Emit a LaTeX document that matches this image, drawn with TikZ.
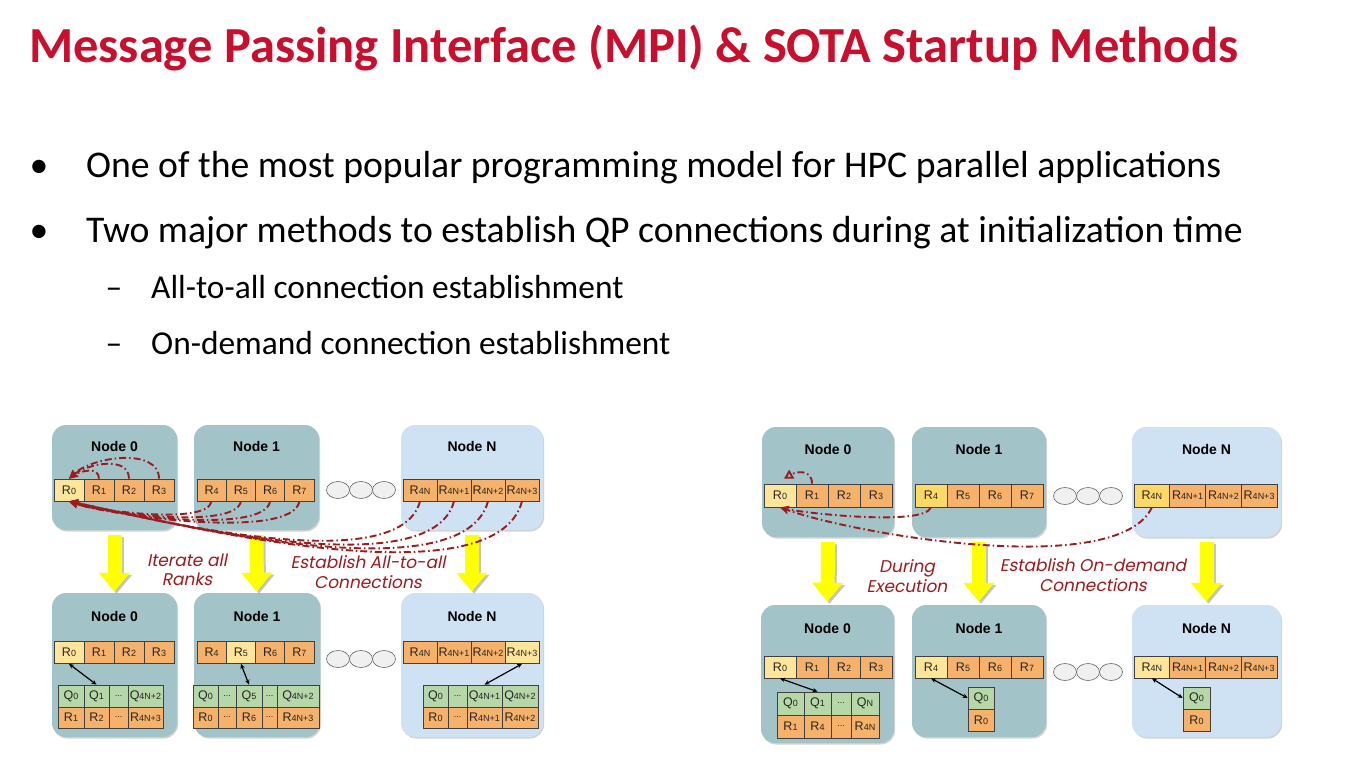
\documentclass[tikz,border=0pt]{standalone}
\usepackage{fontspec}
\setmainfont{Carlito}
\newfontfamily\nodefont{Liberation Sans}
\newfontfamily\lblfont{Poppins}[FakeSlant=0.2]
\usetikzlibrary{arrows.meta,shadows,shapes.geometric}
\definecolor{ttlred}{HTML}{C8102E}
\definecolor{nteal}{HTML}{A2C4C9}
\definecolor{nblue}{HTML}{CFE2F3}
\definecolor{rorange}{HTML}{F6B26B}
\definecolor{rlight}{HTML}{FFE599}
\definecolor{ryellow}{HTML}{FFD966}
\definecolor{qgreen}{HTML}{B6D7A8}
\definecolor{dred}{HTML}{9B1B1E}
\definecolor{ylw}{HTML}{FFFF00}
\newcommand\Rk[1]{{\fontsize{12.5}{13}\selectfont R}{\fontsize{9}{10}\selectfont #1}}
\newcommand\Qk[1]{{\fontsize{12.5}{13}\selectfont Q}{\fontsize{9}{10}\selectfont #1}}
\newcommand\Dk{{\fontsize{9}{10}\selectfont ...}}
\tikzset{
  box/.style={draw=none, rounded corners=14pt, inner sep=0pt,
    drop shadow={shadow xshift=1pt, shadow yshift=-1.5pt, opacity=0.35}},
  nbox/.style={box, fill=nteal},
  nbbox/.style={box, fill=nblue},
  ntitle/.style={font=\nodefont\bfseries\fontsize{14}{16}\selectfont, inner sep=0pt},
  cell/.style={draw=black!75, line width=0.7pt, inner sep=0pt, minimum height=22pt, font=\nodefont, text=black!85},
  rc/.style={cell, fill=rorange},
  hc/.style={cell, fill=rlight},
  yc/.style={cell, fill=ryellow},
  qc/.style={cell, fill=qgreen},
  dot/.style={ellipse, draw=black!60, line width=0.6pt, fill=black!6, minimum width=23pt, minimum height=17pt, inner sep=0pt},
  dd/.style={draw=dred, line width=1.9pt, dash pattern=on 7pt off 3pt on 1.5pt off 3pt, -{Stealth[length=9pt,width=8pt]}},
  ddo/.style={draw=dred, line width=1.9pt, dash pattern=on 7pt off 3pt on 1.5pt off 3pt, -{Triangle[open,length=9pt,width=10pt]}},
  dbl/.style={draw=black, line width=1.2pt, {Stealth[length=5pt,width=4.5pt]}-{Stealth[length=5pt,width=4.5pt]}},
  yarr/.style={draw=ylw, line width=14pt, -{Triangle[length=19pt,width=30pt]}},
  yshd/.style={draw=black!45, opacity=0.5, line width=14pt, -{Triangle[length=19pt,width=30pt]}},
  lbl/.style={font=\lblfont\fontsize{17}{19.5}\selectfont, text=dred, align=center, inner sep=0pt},
  bul/.style={anchor=base west, inner sep=0pt, font=\fontsize{37.7}{40}\selectfont},
  sub/.style={anchor=base west, inner sep=0pt, font=\fontsize{33.4}{36}\selectfont},
}
\begin{document}
\begin{tikzpicture}[x=1pt,y=-1pt]
\useasboundingbox (0,0) rectangle (1349,757);
\fill[white] (0,0) rectangle (1349,757);

% ---------- title and bullets ----------
\node[anchor=base west, inner sep=0pt, font=\fontsize{50.5}{54}\selectfont\bfseries, text=ttlred] (title) at (29,63) {Message Passing Interface (MPI) \& SOTA Startup Methods};
\node[anchor=base, inner sep=0pt, font=\fontsize{37.7}{40}\selectfont] (bu1) at (39,177) {\textbullet};
\node[bul] (t1) at (86,177) {One of the most popular programming model for HPC parallel applications};
\node[anchor=base, inner sep=0pt, font=\fontsize{37.7}{40}\selectfont] (bu2) at (39,242) {\textbullet};
\node[bul] (t2) at (86,242) {Two major methods to establish QP connections during at initialization time};
\node[anchor=base, inner sep=0pt, font=\fontsize{33.4}{36}\selectfont] (da1) at (114,298) {–};
\node[sub] (s1) at (151,298) {All-to-all connection establishment};
\node[anchor=base, inner sep=0pt, font=\fontsize{33.4}{36}\selectfont] (da2) at (114,354) {–};
\node[sub] (s2) at (151,354) {On-demand connection establishment};

% ================= LEFT DIAGRAM =================
\node[nbox, minimum width=125pt, minimum height=105pt] (L0) at (114.5,477.5) {};
\node[nbox, minimum width=125pt, minimum height=105pt] (L1) at (256.5,477.5) {};
\node[nbbox, minimum width=142pt, minimum height=105pt] (LN) at (472,477.5) {};
\node[nbox, minimum width=125pt, minimum height=144pt] (M0) at (114.5,665) {};
\node[nbox, minimum width=126pt, minimum height=144pt] (M1) at (257,665) {};
\node[nbbox, minimum width=142pt, minimum height=144pt] (MN) at (472,665) {};

\node[ntitle] (L0t) at (114.5,446) {Node 0};
\node[ntitle] (L1t) at (256.5,446) {Node 1};
\node[ntitle] (LNt) at (472,446) {Node N};
\node[ntitle] (M0t) at (114.5,616) {Node 0};
\node[ntitle] (M1t) at (257,616) {Node 1};
\node[ntitle] (MNt) at (472,616) {Node N};

% top ranks
\node[hc, minimum width=30pt] (l0r0) at (69,490) {\Rk{0}};
\node[rc, minimum width=30pt] (l0r1) at (99,490) {\Rk{1}};
\node[rc, minimum width=30pt] (l0r2) at (129,490) {\Rk{2}};
\node[rc, minimum width=30pt] (l0r3) at (159,490) {\Rk{3}};
\node[rc, minimum width=29.25pt] (l1r0) at (211.6,490) {\Rk{4}};
\node[rc, minimum width=29.25pt] (l1r1) at (240.9,490) {\Rk{5}};
\node[rc, minimum width=29.25pt] (l1r2) at (270.1,490) {\Rk{6}};
\node[rc, minimum width=29.25pt] (l1r3) at (299.4,490) {\Rk{7}};
\node[rc, minimum width=34pt] (lnr0) at (420,490) {\Rk{4N}};
\node[rc, minimum width=34pt] (lnr1) at (454,490) {\Rk{4N+1}};
\node[rc, minimum width=34pt] (lnr2) at (488,490) {\Rk{4N+2}};
\node[rc, minimum width=34pt] (lnr3) at (522,490) {\Rk{4N+3}};
\node[dot] (ld1) at (338,490) {};
\node[dot] (ld2) at (361,490) {};
\node[dot] (ld3) at (384,490) {};

% bottom ranks
\node[hc, minimum width=30pt] (m0r0) at (69,652.5) {\Rk{0}};
\node[rc, minimum width=30pt] (m0r1) at (99,652.5) {\Rk{1}};
\node[rc, minimum width=30pt] (m0r2) at (129,652.5) {\Rk{2}};
\node[rc, minimum width=30pt] (m0r3) at (159,652.5) {\Rk{3}};
\node[rc, minimum width=29.25pt] (m1r0) at (211.6,652.5) {\Rk{4}};
\node[hc, minimum width=29.25pt] (m1r1) at (240.9,652.5) {\Rk{5}};
\node[rc, minimum width=29.25pt] (m1r2) at (270.1,652.5) {\Rk{6}};
\node[rc, minimum width=29.25pt] (m1r3) at (299.4,652.5) {\Rk{7}};
\node[rc, minimum width=34pt] (mnr0) at (420,652.5) {\Rk{4N}};
\node[rc, minimum width=34pt] (mnr1) at (454,652.5) {\Rk{4N+1}};
\node[rc, minimum width=34pt] (mnr2) at (488,652.5) {\Rk{4N+2}};
\node[hc, minimum width=34pt] (mnr3) at (522,652.5) {\Rk{4N+3}};
\node[dot] (md1) at (338,659) {};
\node[dot] (md2) at (361,659) {};
\node[dot] (md3) at (384,659) {};

% Node 0 QP table
\node[qc, minimum width=26pt] (m0q0) at (71,696) {\Qk{0}};
\node[qc, minimum width=25pt] (m0q1) at (96.5,696) {\Qk{1}};
\node[qc, minimum width=19pt] (m0q2) at (118.5,696) {\Dk};
\node[qc, minimum width=35pt] (m0q3) at (145.5,696) {\Qk{4N+2}};
\node[rc, minimum width=26pt, minimum height=21pt] (m0s0) at (71,717.5) {\Rk{1}};
\node[rc, minimum width=25pt, minimum height=21pt] (m0s1) at (96.5,717.5) {\Rk{2}};
\node[rc, minimum width=19pt, minimum height=21pt] (m0s2) at (118.5,717.5) {\Dk};
\node[rc, minimum width=35pt, minimum height=21pt] (m0s3) at (145.5,717.5) {\Rk{4N+3}};
% Node 1 QP table
\node[qc, minimum width=25pt] (m1q0) at (205.5,696) {\Qk{0}};
\node[qc, minimum width=18pt] (m1q1) at (227,696) {\Dk};
\node[qc, minimum width=26pt] (m1q2) at (249,696) {\Qk{5}};
\node[qc, minimum width=15pt] (m1q3) at (269.5,696) {\Dk};
\node[qc, minimum width=42pt] (m1q4) at (298,696) {\Qk{4N+2}};
\node[rc, minimum width=25pt, minimum height=21pt] (m1s0) at (205.5,717.5) {\Rk{0}};
\node[rc, minimum width=18pt, minimum height=21pt] (m1s1) at (227,717.5) {\Dk};
\node[rc, minimum width=26pt, minimum height=21pt] (m1s2) at (249,717.5) {\Rk{6}};
\node[rc, minimum width=15pt, minimum height=21pt] (m1s3) at (269.5,717.5) {\Dk};
\node[rc, minimum width=42pt, minimum height=21pt] (m1s4) at (298,717.5) {\Rk{4N+3}};
% Node N QP table
\node[qc, minimum width=25pt] (mnq0) at (435.5,696) {\Qk{0}};
\node[qc, minimum width=19pt] (mnq1) at (457.5,696) {\Dk};
\node[qc, minimum width=35pt] (mnq2) at (484.5,696) {\Qk{4N+1}};
\node[qc, minimum width=36pt] (mnq3) at (520,696) {\Qk{4N+2}};
\node[rc, minimum width=25pt, minimum height=21pt] (mns0) at (435.5,717.5) {\Rk{0}};
\node[rc, minimum width=19pt, minimum height=21pt] (mns1) at (457.5,717.5) {\Dk};
\node[rc, minimum width=35pt, minimum height=21pt] (mns2) at (484.5,717.5) {\Rk{4N+1}};
\node[rc, minimum width=36pt, minimum height=21pt] (mns3) at (520,717.5) {\Rk{4N+2}};

\draw[dbl] (m0r0.south) -- (m0q1.north);
\draw[dbl] (m1r1.south) -- (m1q2.north);
\draw[dbl] (mnr3.south) -- (mnq2.north);

% yellow arrows
\foreach \a/\b in {L0/M0, L1/M1, LN/MN}{
  \draw[yshd] ([xshift=2pt,yshift=-7pt]\a.south) -- ([xshift=2pt,yshift=-1pt]\b.north);
  \draw[yarr] ([yshift=-5pt]\a.south) -- ([yshift=1pt]\b.north);
}

% dash-dot connection arrows
\draw[dd] (l0r1.north) to[out=90,in=35,looseness=1.1] (l0r0.north);
\draw[dd] (l0r2.north) to[out=90,in=40] (l0r0.north);
\draw[dd] (l0r3.north) to[out=90,in=45,looseness=0.9] (l0r0.north);
\foreach \i in {0,1,2,3}{
  \draw[dd] (l1r\i.south) to[out=-100,in=-20,looseness=0.45] (l0r0.south);
  \draw[dd] (lnr\i.south) to[out=-105,in=-12,looseness=0.6] (l0r0.south);
}

\node[lbl] (lab1) at (187,570) {Iterate all\\Ranks};
\node[lbl] (lab2) at (368,572) {Establish All-to-all\\Connections};

% ================= RIGHT DIAGRAM =================
\node[nbox, minimum width=132pt, minimum height=110pt] (P0) at (828,482) {};
\node[nbox, minimum width=134pt, minimum height=110pt] (P1) at (979,482) {};
\node[nbbox, minimum width=149pt, minimum height=110pt] (PN) at (1206.5,482) {};
\node[nbox, minimum width=133pt, minimum height=138pt] (S0) at (827.5,674) {};
\node[nbox, minimum width=134pt, minimum height=132pt] (S1) at (979,671) {};
\node[nbbox, minimum width=149pt, minimum height=132pt] (SN) at (1206.5,671) {};

\node[ntitle] (P0t) at (828,449) {Node 0};
\node[ntitle] (P1t) at (979,449) {Node 1};
\node[ntitle] (PNt) at (1206.5,449) {Node N};
\node[ntitle] (S0t) at (827.5,628) {Node 0};
\node[ntitle] (S1t) at (979,628) {Node 1};
\node[ntitle] (SNt) at (1206.5,628) {Node N};

% top ranks
\node[hc, minimum width=32pt, minimum height=23pt] (p0r0) at (780,495.5) {\Rk{0}};
\node[rc, minimum width=32pt, minimum height=23pt] (p0r1) at (812,495.5) {\Rk{1}};
\node[rc, minimum width=32pt, minimum height=23pt] (p0r2) at (844,495.5) {\Rk{2}};
\node[rc, minimum width=32pt, minimum height=23pt] (p0r3) at (876,495.5) {\Rk{3}};
\node[yc, minimum width=32pt, minimum height=23pt] (p1r0) at (931,495.5) {\Rk{4}};
\node[rc, minimum width=32pt, minimum height=23pt] (p1r1) at (963,495.5) {\Rk{5}};
\node[rc, minimum width=32pt, minimum height=23pt] (p1r2) at (995,495.5) {\Rk{6}};
\node[rc, minimum width=32pt, minimum height=23pt] (p1r3) at (1027,495.5) {\Rk{7}};
\node[yc, minimum width=35.75pt, minimum height=23pt] (pnr0) at (1151.9,495.5) {\Rk{4N}};
\node[rc, minimum width=35.75pt, minimum height=23pt] (pnr1) at (1187.6,495.5) {\Rk{4N+1}};
\node[rc, minimum width=35.75pt, minimum height=23pt] (pnr2) at (1223.4,495.5) {\Rk{4N+2}};
\node[rc, minimum width=35.75pt, minimum height=23pt] (pnr3) at (1259.1,495.5) {\Rk{4N+3}};
\node[dot] (pd1) at (1065,496) {};
\node[dot] (pd2) at (1088,496) {};
\node[dot] (pd3) at (1111,496) {};

% bottom ranks
\node[hc, minimum width=32pt] (s0r0) at (780,667) {\Rk{0}};
\node[rc, minimum width=32pt] (s0r1) at (812,667) {\Rk{1}};
\node[rc, minimum width=32pt] (s0r2) at (844,667) {\Rk{2}};
\node[rc, minimum width=32pt] (s0r3) at (876,667) {\Rk{3}};
\node[hc, minimum width=32pt] (s1r0) at (931,667) {\Rk{4}};
\node[rc, minimum width=32pt] (s1r1) at (963,667) {\Rk{5}};
\node[rc, minimum width=32pt] (s1r2) at (995,667) {\Rk{6}};
\node[rc, minimum width=32pt] (s1r3) at (1027,667) {\Rk{7}};
\node[hc, minimum width=35.75pt] (snr0) at (1151.9,667) {\Rk{4N}};
\node[rc, minimum width=35.75pt] (snr1) at (1187.6,667) {\Rk{4N+1}};
\node[rc, minimum width=35.75pt] (snr2) at (1223.4,667) {\Rk{4N+2}};
\node[rc, minimum width=35.75pt] (snr3) at (1259.1,667) {\Rk{4N+3}};
\node[dot] (sd1) at (1065,672) {};
\node[dot] (sd2) at (1088,672) {};
\node[dot] (sd3) at (1111,672) {};

% Node 0 QP table
\node[qc, minimum width=27pt, minimum height=23pt] (s0q0) at (790.5,703.5) {\Qk{0}};
\node[qc, minimum width=27pt, minimum height=23pt] (s0q1) at (817.5,703.5) {\Qk{1}};
\node[qc, minimum width=20pt, minimum height=23pt] (s0q2) at (841,703.5) {\Dk};
\node[qc, minimum width=28pt, minimum height=23pt] (s0q3) at (865,703.5) {\Qk{N}};
\node[rc, minimum width=27pt, minimum height=23pt] (s0s0) at (790.5,726.5) {\Rk{1}};
\node[rc, minimum width=27pt, minimum height=23pt] (s0s1) at (817.5,726.5) {\Rk{4}};
\node[rc, minimum width=20pt, minimum height=23pt] (s0s2) at (841,726.5) {\Dk};
\node[rc, minimum width=28pt, minimum height=23pt] (s0s3) at (865,726.5) {\Rk{4N}};
% Node 1 / Node N QP tables
\node[qc, minimum width=26pt] (s1q0) at (981,698) {\Qk{0}};
\node[rc, minimum width=26pt] (s1s0) at (981,720) {\Rk{0}};
\node[qc, minimum width=27pt] (snq0) at (1196.5,698) {\Qk{0}};
\node[rc, minimum width=27pt] (sns0) at (1196.5,720) {\Rk{0}};

\draw[dbl] (s0r0.south) -- (s0q1.north);
\draw[dbl] (s1r0.south) -- (s1q0.west);
\draw[dbl] (snr0.south) -- (snq0.west);

% yellow arrows
\foreach \a/\b in {P0/S0, P1/S1, PN/SN}{
  \draw[yshd] ([xshift=2pt,yshift=-7pt]\a.south) -- ([xshift=2pt,yshift=1pt]\b.north);
  \draw[yarr] ([yshift=-5pt]\a.south) -- ([yshift=3pt]\b.north);
}

% dash-dot arrows
\draw[ddo] (p0r1.north) to[out=90,in=30,looseness=1.3] ([xshift=4pt,yshift=5pt]p0r0.north);
\draw[dd] (p1r0.south) to[out=-110,in=-15,looseness=0.35] (p0r0.south);
\draw[dd] (pnr0.south) to[out=-115,in=-20,looseness=0.55] (p0r0.south);

\node[lbl] (lab3) at (907,576) {During\\Execution};
\node[lbl] (lab4) at (1093,575) {Establish On-demand\\Connections};
\end{tikzpicture}
\end{document}
